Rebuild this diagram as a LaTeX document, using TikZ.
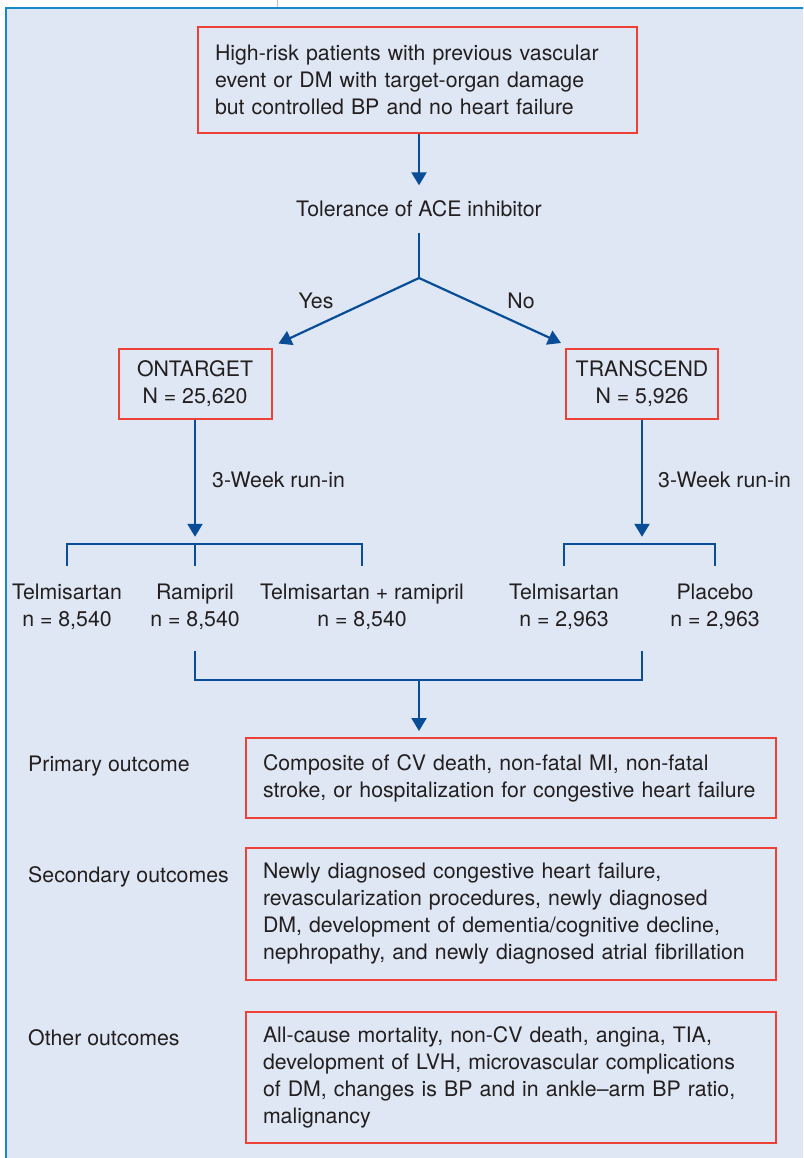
\documentclass[tikz,border=0pt]{standalone}
\usepackage{fontspec}
\setmainfont{TeX Gyre Heros}
\usetikzlibrary{arrows.meta,calc}
\definecolor{bgblue}{RGB}{222,231,243}
\definecolor{frameblue}{RGB}{22,136,204}
\definecolor{linkblue}{RGB}{8,77,150}
\definecolor{boxred}{RGB}{238,65,54}
\definecolor{txtgray}{RGB}{35,31,32}

\begin{document}
\begin{tikzpicture}[x=1pt,y=-1pt,
  every node/.style={text=txtgray,font=\fontsize{21.3}{27}\selectfont},
  redbox/.style={draw=boxred,line width=2pt,inner sep=0pt},
  leftbox/.style={redbox,inner xsep=17pt,align=left},
  plain/.style={inner sep=0pt},
  arm/.style={inner sep=0pt,align=center,minimum height=81pt},
  link/.style={draw=linkblue,line width=2.2pt},
  arrow/.style={link,-{Triangle[length=13pt,width=15pt]}}]
  \useasboundingbox (0,0) rectangle (803,1158);
  \clip (0,0) rectangle (803,1158);

  %panel
  \fill[white] (0,0) rectangle (803,1158);
  \draw[gray!50,line width=1pt] (277.5,0) -- (277.5,7);
  \fill[bgblue] (6,8) rectangle (830,1180);
  \draw[frameblue,line width=2pt] (830,8) -- (6,8) -- (6,1180);

  %population and split
  \node[leftbox,text width=405pt,minimum height=106pt] (pop) at (417.5,80)
    {High-risk patients with previous vascular\\event or DM with target-organ damage\\but controlled BP and no heart failure};
  \node[plain,minimum height=47pt] (tol) at (419,209) {Tolerance of ACE inhibitor};
  \coordinate (fork) at (419,278);
  \node[plain] (yes) at (316,301) {Yes};
  \node[plain] (no) at (521,301) {No};

  \node[redbox,align=center,minimum width=153pt,minimum height=70pt] (ont) at (195,383.5) {ONTARGET\\N = 25,620};
  \node[redbox,align=center,minimum width=152pt,minimum height=70pt] (tra) at (642,384) {TRANSCEND\\N = 5,926};

  \draw[arrow] (pop.south -| tol.north) -- (tol.north);
  \draw[link] (tol.south) -- (fork);
  \draw[arrow] (fork) -- ([shift={(6,-4)}]ont.north east);
  \draw[arrow] (fork) -- ([shift={(-4,-5)}]tra.north west);

  %treatment arms
  \node[arm] (telA) at (67,606.5) {Telmisartan\\n = 8,540};
  \node[arm] (ram) at (195,606.5) {Ramipril\\n = 8,540};
  \node[arm] (combo) at (362,606.5) {Telmisartan + ramipril\\n = 8,540};
  \node[arm] (telB) at (564,606.5) {Telmisartan\\n = 2,963};
  \node[arm] (plac) at (715,606.5) {Placebo\\n = 2,963};

  \node[plain,anchor=west] (runA) at (212,480) {3-Week run-in};
  \node[plain,anchor=west] (runB) at (658,480) {3-Week run-in};

  \draw[arrow] (ont.south) -- ([yshift=29pt]ram.north);
  \draw[arrow] (tra.south) -- ($(tra.south |- telB.north)+(0,-29)$);
  \draw[link] (telA.north) -- ++(0,-22) -| (combo.north);
  \draw[link] (ram.north) -- ++(0,-22);
  \draw[link] (telB.north) -- ++(0,-22) -| (plac.north);

  %pooled outcomes
  \coordinate (join) at (419,680);
  \draw[link] ($(ram.south)+(0,4)$) |- (join) -| ($(tra.south |- ram.south)+(0,4)$);

  \node[leftbox,text width=496pt,minimum height=80pt] (prim) at (511,778)
    {Composite of CV death, non-fatal MI, non-fatal\\stroke, or hospitalization for congestive heart failure};
  \node[leftbox,text width=496pt,minimum height=132pt] (sec) at (511,914)
    {Newly diagnosed congestive heart failure,\\revascularization procedures, newly diagnosed\\DM, development of dementia/cognitive decline,\\nephropathy, and newly diagnosed atrial fibrillation};
  \node[leftbox,text width=496pt,minimum height=131pt] (oth) at (511,1077.5)
    {All-cause mortality, non-CV death, angina, TIA,\\development of LVH, microvascular complications\\of DM, changes is BP and in ankle--arm BP ratio,\\malignancy};

  \draw[arrow] (join) -- ($(join |- prim.north)+(0,-6)$);

  \node[plain,anchor=west] (primlbl) at (28,766) {Primary outcome};
  \node[plain,anchor=west] (seclbl) at (28,877) {Secondary outcomes};
  \node[plain,anchor=west] (othlbl) at (28,1038) {Other outcomes};
\end{tikzpicture}
\end{document}
